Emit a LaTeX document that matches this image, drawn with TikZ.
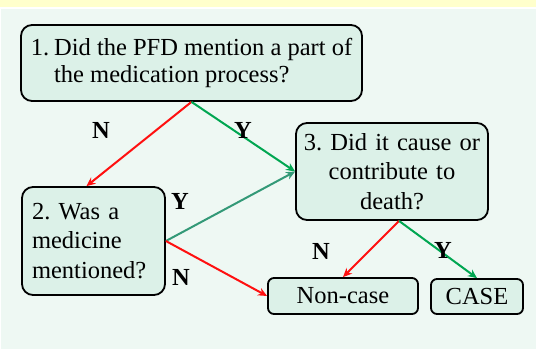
\documentclass[tikz,border=0pt]{standalone}
\usepackage{fontspec}
\setmainfont{Liberation Serif}
\frenchspacing
\usetikzlibrary{arrows.meta, positioning, calc}
\definecolor{bgyellow}{HTML}{FFFFCC}
\definecolor{bgmint}{HTML}{EEF8F3}
\definecolor{boxmint}{HTML}{DCF1E8}
\definecolor{nored}{HTML}{FF1010}
\definecolor{yesgreen}{HTML}{00A651}
\definecolor{yesteal}{HTML}{339977}

\begin{document}
\begin{tikzpicture}[x=1pt, y=-1pt,
  qbox/.style={draw, line width=1.8pt, rounded corners=11pt, fill=boxmint,
               inner sep=0pt, font=\fontsize{24.5}{29.5}\selectfont},
  endbox/.style={qbox, rounded corners=6pt},
  lbl/.style={font=\fontsize{24.5}{28}\selectfont\bfseries, inner sep=0pt},
  arr/.style={-{Stealth[length=9pt,width=8pt]}, line width=2pt}
]
  \useasboundingbox (0,0) rectangle (536,349);
  \fill[bgyellow] (0,0) rectangle (536,7);
  \fill[bgmint] (1,9) rectangle (536,349);

  \node[qbox, minimum width=341pt, minimum height=76pt] (q1) at (191.5,63) {%
    \begin{tabular}{@{}l@{\hspace{5pt}}l@{}}
      1. & Did the PFD mention a part of\\[-2pt]
         & the medication process?
    \end{tabular}};
  \node[qbox, minimum height=108pt, text width=123pt, inner xsep=10pt,
        align=left] (q2) at (93.5,241) {2. Was a\\ medicine\\ mentioned?};
  \node[qbox, minimum width=192pt, minimum height=97pt, text width=180pt,
        align=center] (q3) at (392,171.5) {3. Did it cause or\\ contribute to\\ death?};
  \node[endbox, minimum width=150pt, minimum height=36pt] (nc) at (343,296) {Non-case};
  \node[endbox, minimum width=92pt, minimum height=35pt] (cs) at (477,296.5) {CASE};

  \draw[arr, nored] (q1.south) -- ([xshift=-7pt]q2.north);
  \draw[arr, yesgreen] (q1.south) -- (q3.west);
  \draw[arr, yesteal] (q2.east) -- (q3.west);
  \draw[arr, nored] (q2.east) -- (nc.west);
  \draw[arr, nored] ([xshift=7pt]q3.south) -- (nc.north);
  \draw[arr, yesgreen] ([xshift=7pt]q3.south) -- (cs.north);

  \node[lbl] (n1) at (101,130) {N};
  \node[lbl] (y1) at (243,130) {Y};
  \node[lbl] (y2) at (180,201) {Y};
  \node[lbl] (n2) at (181,277) {N};
  \node[lbl] (n3) at (321,251) {N};
  \node[lbl] (y3) at (443,250) {Y};
\end{tikzpicture}
\end{document}
